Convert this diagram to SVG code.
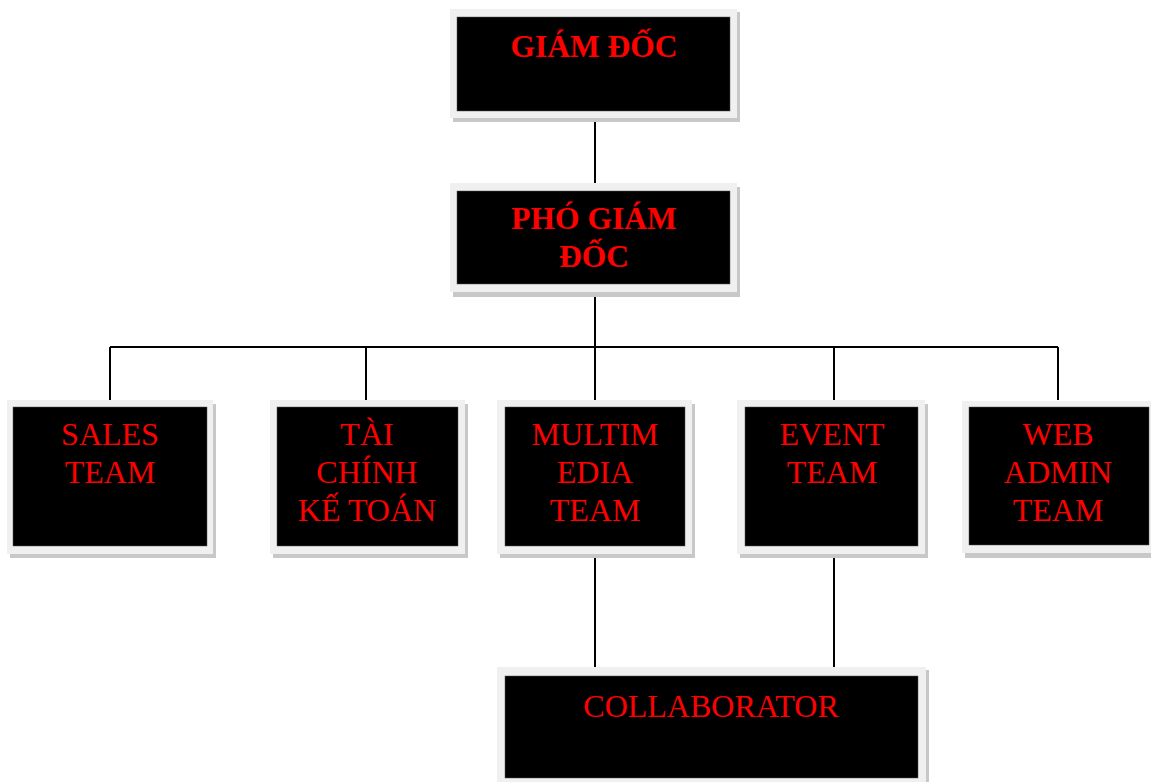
<svg xmlns="http://www.w3.org/2000/svg" width="1151" height="782" viewBox="0 0 1151 782">
<style>
.sh{fill:#c8c8c8}
.fr{fill:#f0f0f0}
.in{fill:#000;stroke:#555;stroke-width:0.5}
.tb{font-family:"Liberation Serif",serif;font-size:31.5px;font-weight:bold;fill:#ff0000;text-anchor:middle}
.tr{font-family:"Liberation Serif",serif;font-size:32px;fill:#ff0000;text-anchor:middle}
.ln{stroke:#000;stroke-width:2;fill:none}
</style>
<rect width="1151" height="782" fill="#fff"/>
<g id="connectors">
<path class="ln" d="M595 118V183M595 292V400M110 347H1058M110 347V400M366 347V400M834 347V400M1058 347V400M595 555V670M834 555V670"/>
</g>
<g id="giam-doc">
<rect class="sh" x="453" y="12" width="287" height="110"/>
<rect class="fr" x="450" y="9" width="287" height="109"/>
<rect class="in" x="457" y="17" width="273" height="94"/>
<text class="tb" x="594" y="57">GIÁM ĐỐC</text>
</g>
<g id="pho-giam-doc">
<rect class="sh" x="453" y="187" width="287" height="110"/>
<rect class="fr" x="450" y="183" width="287" height="109"/>
<rect class="in" x="457" y="191" width="273" height="93"/>
<text class="tb" x="594" y="229">PHÓ GIÁM</text>
<text class="tb" x="594" y="267">ĐỐC</text>
</g>
<g id="sales">
<rect class="sh" x="10" y="404" width="206" height="154"/>
<rect class="fr" x="7" y="400" width="206" height="154"/>
<rect class="in" x="13" y="407" width="194" height="139"/>
<text class="tr" x="110" y="445">SALES</text>
<text class="tr" x="110" y="483">TEAM</text>
</g>
<g id="tai-chinh">
<rect class="sh" x="273" y="404" width="195" height="154"/>
<rect class="fr" x="270" y="400" width="195" height="154"/>
<rect class="in" x="277" y="407" width="181" height="139"/>
<text class="tr" x="367" y="445">TÀI</text>
<text class="tr" x="367" y="483">CHÍNH</text>
<text class="tr" x="367" y="521">KẾ TOÁN</text>
</g>
<g id="multimedia">
<rect class="sh" x="500" y="404" width="195" height="154"/>
<rect class="fr" x="497" y="400" width="195" height="154"/>
<rect class="in" x="505" y="407" width="180" height="139"/>
<text class="tr" x="595" y="445">MULTIM</text>
<text class="tr" x="595" y="483">EDIA</text>
<text class="tr" x="595" y="521">TEAM</text>
</g>
<g id="event">
<rect class="sh" x="740" y="404" width="188" height="154"/>
<rect class="fr" x="737" y="400" width="188" height="154"/>
<rect class="in" x="745" y="407" width="173" height="139"/>
<text class="tr" x="832" y="445">EVENT</text>
<text class="tr" x="832" y="483">TEAM</text>
</g>
<g id="web-admin">
<rect class="sh" x="965" y="404" width="190" height="154"/>
<rect class="fr" x="962" y="401" width="190" height="152"/>
<rect class="in" x="969" y="407" width="180" height="138"/>
<text class="tr" x="1058" y="445">WEB</text>
<text class="tr" x="1058" y="483">ADMIN</text>
<text class="tr" x="1058" y="521">TEAM</text>
</g>
<g id="collaborator">
<rect class="sh" x="500" y="670" width="429" height="120"/>
<rect class="fr" x="497" y="667" width="429" height="120"/>
<rect class="in" x="505" y="676" width="413" height="102"/>
<text class="tr" x="711" y="717">COLLABORATOR</text>
</g>
</svg>
